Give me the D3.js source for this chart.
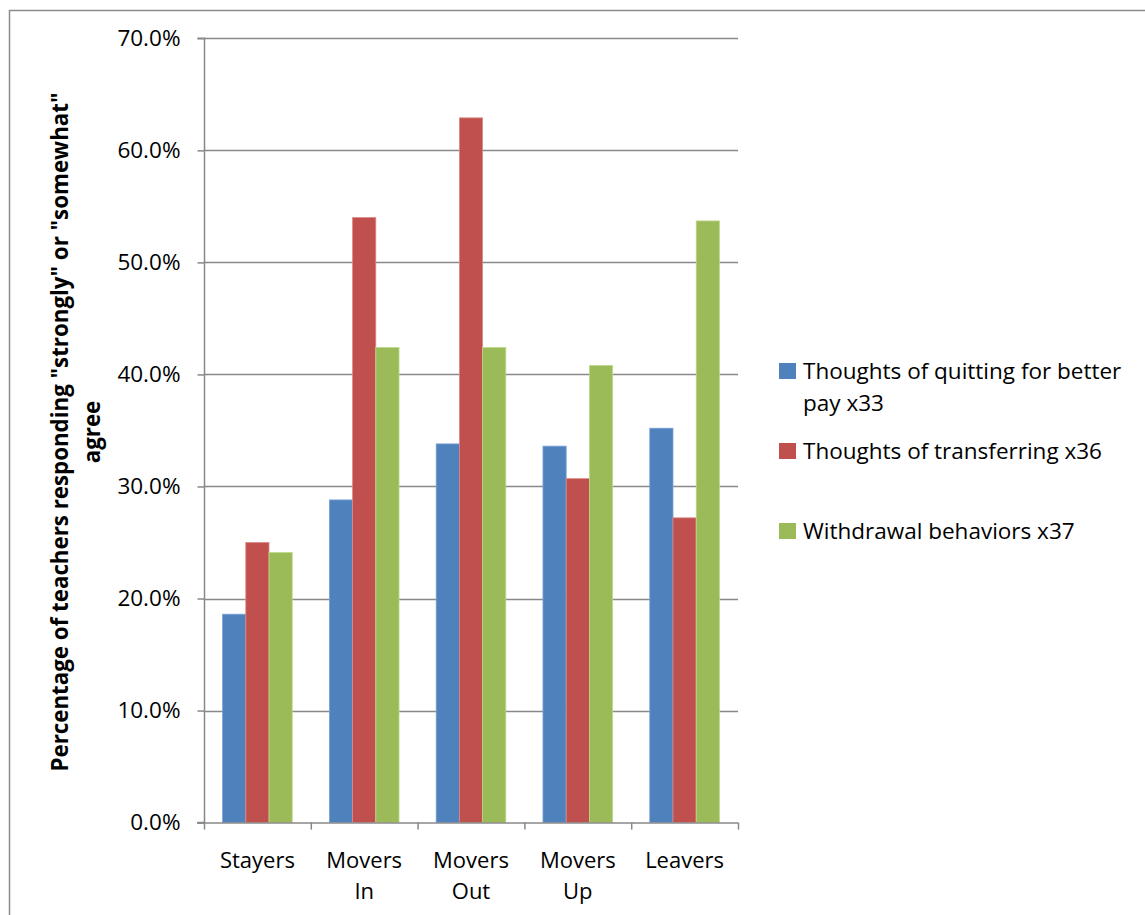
<!DOCTYPE html>
<html><head><meta charset="utf-8">
<script src="https://cdn.jsdelivr.net/npm/d3@7"></script>
<style>body{margin:0;background:#fff;}svg{display:block;font-family:"Open Sans",sans-serif;}</style>
</head><body>
<svg id="chart" width="1145" height="915"></svg>
<script>
const categories = [["Stayers"],["Movers","In"],["Movers","Out"],["Movers","Up"],["Leavers"]];
const seriesNames = ["Thoughts of quitting for better pay x33","Thoughts of transferring x36","Withdrawal behaviors x37"];
const quitting = [18.6, 28.8, 33.8, 33.6, 35.2];
const transferring = [25.0, 54.0, 62.9, 30.7, 27.2];
const withdrawal = [24.1, 42.4, 42.4, 40.8, 53.7];
const yTicks = [0,10,20,30,40,50,60,70];
const colors = ["#4F81BD","#C0504D","#9BBB59"];
const strokes = ["#7BA3D6","#DC8A88","#BFD88A"];

const svg = d3.select("#chart");
const L=204, R=738, T=38.3, B=822.6;
const catKeys = categories.map((c,i)=>i);
const x = d3.scaleBand().domain(catKeys).range([L,R]).paddingInner(0).paddingOuter(0);
const y = d3.scaleLinear().domain([0,70]).range([B,T]);
const xs = d3.scaleBand().domain([0,1,2]).range([0, x.bandwidth()]).paddingOuter(0.8).paddingInner(0);

// frame
svg.append("rect").attr("x",9.5).attr("y",10.5).attr("width",1200).attr("height",1000)
  .attr("fill","none").attr("stroke","#8c8c8c").attr("stroke-width",1.5);

// gridlines
svg.append("g").selectAll("line").data(yTicks.filter(d=>d>0)).join("line")
  .attr("x1",L).attr("x2",R).attr("y1",d=>Math.round(y(d))+0.5).attr("y2",d=>Math.round(y(d))+0.5)
  .attr("stroke","#888").attr("stroke-width",1.5);

// bars
const series=[quitting,transferring,withdrawal];
series.forEach((vals,si)=>{
  svg.append("g").selectAll("rect").data(vals).join("rect")
    .attr("x",(d,i)=>x(i)+xs(si)).attr("width",xs.bandwidth())
    .attr("y",d=>y(d)).attr("height",d=>B-y(d))
    .attr("fill",colors[si]).attr("stroke",strokes[si]).attr("stroke-width",0.8);
});

// y axis
const yAxis = d3.axisLeft(y).tickValues(yTicks).tickFormat(d=>d.toFixed(1)+"%").tickSize(7).tickPadding(17);
const gy = svg.append("g").attr("transform",`translate(${L+0.5},0)`).call(yAxis);
gy.select(".domain").attr("stroke","#888").attr("stroke-width",1.5).attr("d",`M-7,${T}H0V${B}H-7`);
gy.selectAll(".tick line").attr("stroke","#888").attr("stroke-width",1.5);
gy.selectAll(".tick text").attr("font-size",22.5).attr("fill","#000").attr("font-family","Open Sans");

// x axis
svg.append("line").attr("x1",L-7).attr("x2",R).attr("y1",B+0.5).attr("y2",B+0.5).attr("stroke","#888").attr("stroke-width",1.5);
const edges = catKeys.map(i=>x(i)).concat([R]);
svg.append("g").selectAll("line").data(edges).join("line")
  .attr("x1",d=>d+0.5).attr("x2",d=>d+0.5).attr("y1",B).attr("y2",B+7).attr("stroke","#888").attr("stroke-width",1.5);
const xl = svg.append("g").selectAll("text").data(categories).join("text")
  .attr("x",(d,i)=>x(i)+x.bandwidth()/2).attr("y",868).attr("text-anchor","middle")
  .attr("font-size",22).attr("fill","#000");
xl.selectAll("tspan").data(d=>d).join("tspan")
  .attr("x",function(){return this.parentNode.getAttribute("x");})
  .attr("dy",(d,i)=>i===0?0:31).text(d=>d);

// y title
const yt = svg.append("text").attr("transform","translate(68,432) rotate(-90)")
  .attr("text-anchor","middle").attr("font-weight","bold").attr("font-size",22.3).attr("fill","#000");
yt.append("tspan").attr("x",0).attr("y",0).text('Percentage of teachers responding "strongly" or "somewhat"');
yt.append("tspan").attr("x",0).attr("y",32).text('agree');

// legend
const legendRows = [
  {lines:["Thoughts of quitting for better","pay x33"], y:363},
  {lines:["Thoughts of transferring x36"], y:443},
  {lines:["Withdrawal behaviors x37"], y:523}
];
const lg = svg.append("g").selectAll("g").data(legendRows).join("g");
lg.append("rect").attr("x",779).attr("y",d=>d.y).attr("width",17).attr("height",16)
  .attr("fill",(d,i)=>colors[i]);
const lt = lg.append("text").attr("font-size",22.5).attr("fill","#000");
lt.selectAll("tspan").data(d=>d.lines.map((l,k)=>({l,k,y:d.y}))).join("tspan")
  .attr("x",803).attr("y",d=>d.y+16+d.k*32).text(d=>d.l);
</script>
</body></html>
